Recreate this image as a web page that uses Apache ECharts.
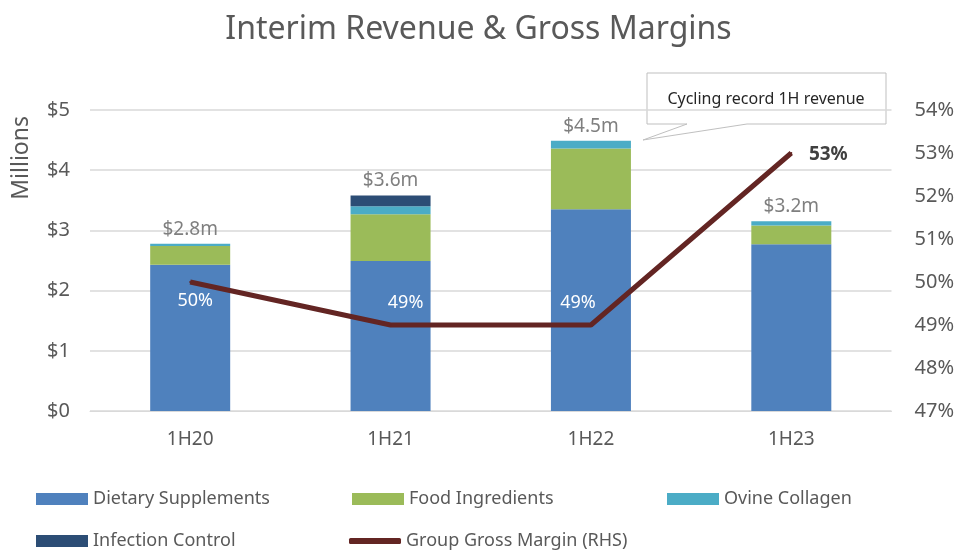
<!DOCTYPE html>
<html>
<head>
<meta charset="utf-8">
<script src="https://cdn.jsdelivr.net/npm/echarts@6/dist/echarts.min.js"></script>
<style>
  html, body { margin: 0; padding: 0; background: #fff; }
  #chart { width: 957px; height: 550px; }
</style>
</head>
<body>
<div id="chart"></div>
<script>
// data ($ millions)
var periods = ['1H20', '1H21', '1H22', '1H23'];
var dietary = [2.43, 2.49, 3.35, 2.77];
var foodIngr = [0.31, 0.78, 1.01, 0.31];
var ovine = [0.04, 0.13, 0.13, 0.07];
var infection = [0, 0.18, 0, 0];
var totalLabels = ['$2.8m', '$3.6m', '$4.5m', '$3.2m'];
var grossMargin = [50, 49, 49, 53];

var FONT = 'Noto Sans';
var GREY = '#595959';

var chart = echarts.init(document.getElementById('chart'));

// where each margin label sits relative to its point (as in the original)
var marginLabelOffsets = [[5, 19], [15, -22], [-13, -22], [37, 2]];
var marginData = grossMargin.map(function (v, i) {
  var last = i === grossMargin.length - 1;
  return {
    value: v,
    label: {
      position: 'inside',
      offset: marginLabelOffsets[i],
      color: last ? '#404040' : '#fff',
      fontWeight: last ? 'bold' : 'normal',
      fontSize: last ? 19 : 18
    }
  };
});

function legendFor(name, left, top, icon, h) {
  return {
    data: [{ name: name, icon: icon }],
    left: left, top: top, padding: 0,
    itemWidth: 52, itemHeight: h,
    textStyle: { color: GREY, fontSize: 18, fontFamily: FONT }
  };
}

var option = {
  animation: false,
  title: {
    text: 'Interim Revenue & Gross Margins',
    left: 'center', top: 9,
    textStyle: { color: GREY, fontSize: 32, fontWeight: 'normal', fontFamily: FONT }
  },
  legend: [
    legendFor('Dietary Supplements', 36, 490, 'rect', 12),
    legendFor('Food Ingredients', 352, 490, 'rect', 12),
    legendFor('Ovine Collagen', 667, 490, 'rect', 12),
    legendFor('Infection Control', 36, 532, 'rect', 12),
    legendFor('Group Gross Margin (RHS)', 349, 532, 'roundRect', 6)
  ],
  grid: { left: 90, right: 65, top: 110, bottom: 139 },
  xAxis: {
    type: 'category',
    data: periods,
    axisLine: { lineStyle: { color: '#d9d9d9', width: 1 } },
    axisTick: { show: false },
    axisLabel: { color: GREY, fontSize: 19, fontFamily: FONT, margin: 19 }
  },
  yAxis: [
    {
      type: 'value', min: 0, max: 5, interval: 1,
      axisLabel: { color: GREY, fontSize: 20, fontFamily: FONT, margin: 20, formatter: '${value}' },
      splitLine: { lineStyle: { color: '#d9d9d9', width: 1.5 } },
      axisLine: { show: false }, axisTick: { show: false }
    },
    {
      type: 'value', min: 47, max: 54, interval: 1,
      axisLabel: { color: GREY, fontSize: 20, fontFamily: FONT, margin: 23, formatter: '{value}%' },
      splitLine: { show: false },
      axisLine: { show: false }, axisTick: { show: false }
    }
  ],
  series: [
    { name: 'Dietary Supplements', type: 'bar', stack: 'rev', data: dietary, barWidth: 80,
      itemStyle: { color: '#4F81BD' } },
    { name: 'Food Ingredients', type: 'bar', stack: 'rev', data: foodIngr,
      itemStyle: { color: '#9BBB59' } },
    { name: 'Ovine Collagen', type: 'bar', stack: 'rev', data: ovine,
      itemStyle: { color: '#4BACC6' } },
    { name: 'Infection Control', type: 'bar', stack: 'rev', data: infection,
      itemStyle: { color: '#2C4D75' } },
    // zero-height cap that carries the total labels
    { name: 'Total', type: 'bar', stack: 'rev', data: [0, 0, 0, 0],
      itemStyle: { color: 'transparent' },
      label: {
        show: true, position: 'top', distance: 5,
        color: '#7f7f7f', fontSize: 19, fontFamily: FONT,
        formatter: function (p) { return totalLabels[p.dataIndex]; }
      }
    },
    { name: 'Group Gross Margin (RHS)', type: 'line', yAxisIndex: 1, data: marginData,
      symbol: 'circle', symbolSize: 2,
      lineStyle: { color: '#632523', width: 5 },
      itemStyle: { color: '#632523' },
      label: {
        show: true, fontFamily: FONT,
        formatter: '{c}%'
      }
    }
  ],
  graphic: [
    {
      type: 'text', left: 10, top: 116, rotation: Math.PI / 2,
      style: { text: 'Millions', fill: GREY, fontSize: 23, fontFamily: FONT }
    },
    {
      type: 'polygon',
      shape: { points: [[647, 73], [886, 73], [886, 124], [747, 124], [643, 140], [687, 124], [647, 124]] },
      style: { fill: '#fff', stroke: '#bfbfbf', lineWidth: 1 }
    },
    {
      type: 'text', x: 766, y: 99,
      style: { text: 'Cycling record 1H revenue', fill: '#262626', fontSize: 16, fontFamily: FONT,
        align: 'center', verticalAlign: 'middle' }
    }
  ]
};

chart.setOption(option);
</script>
</body>
</html>
